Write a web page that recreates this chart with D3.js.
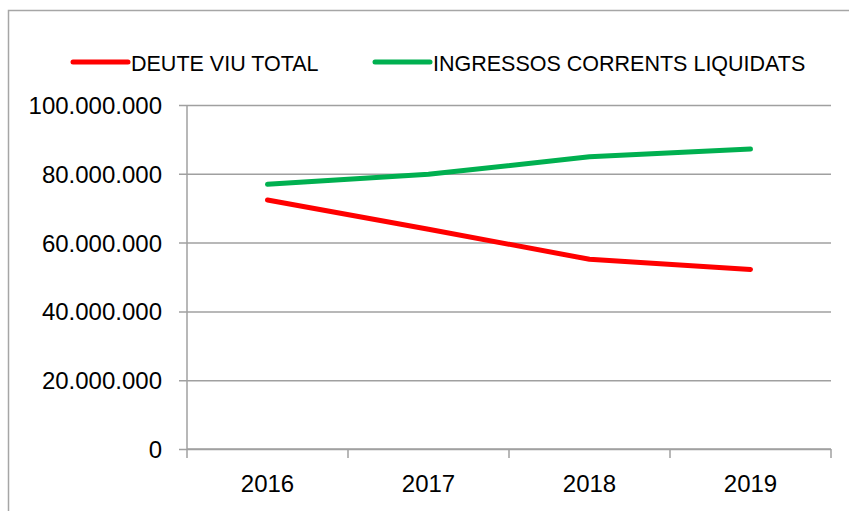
<!DOCTYPE html>
<html>
<head>
<meta charset="utf-8">
<script src="https://cdn.jsdelivr.net/npm/d3@7"></script>
<style>
  html, body { margin: 0; padding: 0; background: #fff; }
  svg { display: block; }
  text { font-family: "Liberation Sans", Arial, sans-serif; fill: #000; }
</style>
</head>
<body>
<div id="chart"></div>
<script>
// chart data
var years = ['2016', '2017', '2018', '2019'];
var deuteViu = [72400000, 63900000, 55150000, 52200000];
var ingressos = [76950000, 79850000, 84950000, 87200000];
var yTicks = [0, 20000000, 40000000, 60000000, 80000000, 100000000];
var seriesNames = ['DEUTE VIU TOTAL', 'INGRESSOS CORRENTS LIQUIDATS'];
var seriesColors = ['#ff0000', '#00b050'];

var width = 849, height = 511;
var margin = { left: 187, right: 18, top: 105, bottom: 62 };

var svg = d3.select('#chart').append('svg')
  .attr('width', width)
  .attr('height', height);

// outer frame (runs off the picture right and bottom)
svg.append('rect')
  .attr('x', 8.5).attr('y', 10.5)
  .attr('width', 1000).attr('height', 1000)
  .attr('fill', 'none')
  .attr('stroke', '#a6a6a6')
  .attr('stroke-width', 1.5);

var x = d3.scaleBand()
  .domain(years)
  .range([margin.left, width - margin.right]);

var y = d3.scaleLinear()
  .domain([0, 100000000])
  .range([height - margin.bottom, margin.top]);

var fmt = function(v){
  // thousands with dots
  return d3.format(',')(v).replace(/,/g, '.');
};

// gridlines + y axis
var yAxis = svg.append('g')
  .attr('transform', 'translate(' + margin.left + ',0)')
  .call(d3.axisLeft(y).tickValues(yTicks).tickFormat(fmt)
    .tickSize(-(width - margin.left - margin.right)).tickPadding(0));

yAxis.select('.domain').remove();
yAxis.selectAll('.tick line')
  .attr('stroke', '#a0a0a0')
  .attr('stroke-width', 1.5)
  .attr('x1', -8);
yAxis.selectAll('.tick text')
  .attr('x', -25)
  .attr('dy', '0.35em')
  .style('font-size', '24px');

// y axis line
svg.append('line')
  .attr('x1', margin.left).attr('x2', margin.left)
  .attr('y1', y(100000000)).attr('y2', y(0))
  .attr('stroke', '#a0a0a0')
  .attr('stroke-width', 1.5);

// x axis
var xAxis = svg.append('g')
  .attr('transform', 'translate(0,' + y(0) + ')')
  .call(d3.axisBottom(x).tickSize(0).tickPadding(35));

xAxis.select('.domain').remove();
xAxis.selectAll('.tick text')
  .attr('dy', '0.35em')
  .style('font-size', '24px');

// category boundary ticks
var bounds = years.map(function(d){ return x(d); }).concat([x.range()[1]]);
svg.append('g').selectAll('line')
  .data(bounds)
  .enter().append('line')
    .attr('x1', function(d){ return d; })
    .attr('x2', function(d){ return d; })
    .attr('y1', y(0))
    .attr('y2', y(0) + 9)
    .attr('stroke', '#a0a0a0')
    .attr('stroke-width', 1.5);

svg.append('line')
  .attr('x1', margin.left).attr('x2', x.range()[1])
  .attr('y1', y(0)).attr('y2', y(0))
  .attr('stroke', '#a0a0a0')
  .attr('stroke-width', 1.5);

// lines
var line = d3.line()
  .x(function(d, i){ return x(years[i]) + x.bandwidth() / 2; })
  .y(function(d){ return y(d); });

[deuteViu, ingressos].forEach(function(vals, k){
  svg.append('path')
    .datum(vals)
    .attr('d', line)
    .attr('fill', 'none')
    .attr('stroke', seriesColors[k])
    .attr('stroke-width', 5)
    .attr('stroke-linecap', 'round')
    .attr('stroke-linejoin', 'round');
});

// legend
var legendX = [73, 375];
var legend = svg.append('g');
seriesNames.forEach(function(name, k){
  legend.append('line')
    .attr('x1', legendX[k]).attr('x2', legendX[k] + 55)
    .attr('y1', 62).attr('y2', 62)
    .attr('stroke', seriesColors[k])
    .attr('stroke-width', 5)
    .attr('stroke-linecap', 'round');
  legend.append('text')
    .attr('x', legendX[k] + 58)
    .attr('y', 63)
    .attr('dy', '0.35em')
    .style('font-size', '21.5px')
    .text(name);
});
</script>
</body>
</html>
